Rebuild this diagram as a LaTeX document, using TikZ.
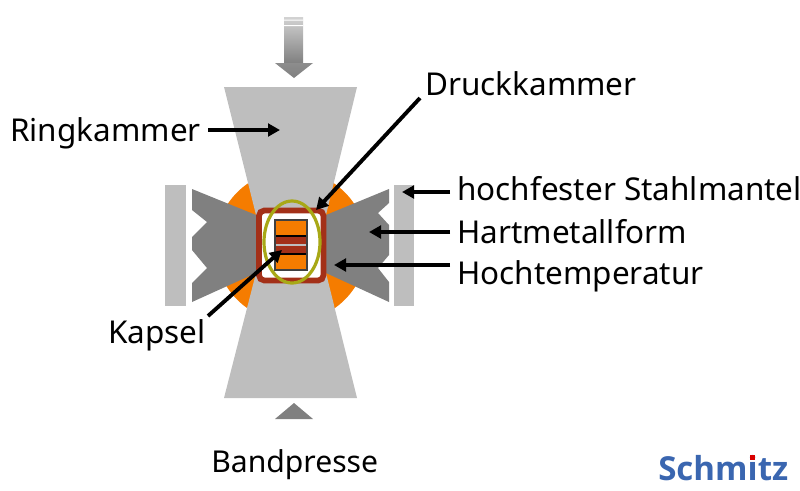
\documentclass[tikz,border=0pt]{standalone}
\usepackage{fontspec}
\setmainfont{Noto Sans}
\newfontfamily\logofont{Open Sans}
\usetikzlibrary{arrows.meta}
\definecolor{lightsteel}{HTML}{BEBEBE}
\definecolor{anvil}{HTML}{808080}
\definecolor{hotorange}{HTML}{F57C00}
\definecolor{rust}{HTML}{A33018}
\definecolor{olive}{HTML}{A8A816}
\definecolor{brand}{HTML}{3A66B0}
\tikzset{
  lbl/.style={anchor=base west,inner sep=0pt,font=\fontsize{23.6}{27}\selectfont,text=black},
  pointer/.style={draw=black,line width=2.9pt,-{Triangle[length=9pt,width=9.5pt]},shorten >=0pt},
}
\begin{document}
\begin{tikzpicture}[x=0.75pt,y=-0.75pt]
\useasboundingbox (0,0) rectangle (800,490);
% orange disc
\fill[hotorange] (291,246) circle[radius=76];
% retaining bars
\fill[lightsteel] (165,185) rectangle (186,306);
\fill[lightsteel] (394,185) rectangle (414,306);
% anvils
\fill[anvil] (192,189) -- (256,215) -- (256,273) -- (192,302) -- (192,283) -- (207,268) -- (192,250) -- (192,237) -- (207,222) -- (192,210) -- cycle;
\fill[anvil] (389,189) -- (326,215) -- (326,273) -- (389,302) -- (389,282) -- (378,268) -- (389,255) -- (389,225) -- (378,213) -- (389,203) -- cycle;
% trapezoids
\fill[lightsteel] (224,87) -- (357,87) -- (326,215) -- (256,215) -- cycle;
\fill[lightsteel] (224,398) -- (357,398) -- (326,273) -- (256,273) -- cycle;
% pressure chamber
\draw[rust,fill=white,line width=4.3pt,rounded corners=4pt] (259,210.5) rectangle (323.5,280.5);
% capsule
\fill[hotorange] (275,220) rectangle (307,270);
\fill[rust] (275,236) rectangle (307,254);
\draw[lightsteel,line width=1pt] (274.5,245) -- (307.5,245);
\draw[black,line width=0.8pt] (275,236) -- (307,236) (275,254) -- (307,254);
\draw[black!75,line width=0.8pt] (275,220) rectangle (307,270);
% ellipse
\draw[olive,line width=2.4pt] (292,242) ellipse[x radius=28,y radius=41];
% press arrows
\shade[top color=gray!35,bottom color=anvil] (284,17) rectangle (303,63);
\shade[top color=anvil!90,bottom color=anvil] (275,63) -- (313,63) -- (294,78) -- cycle;
\fill[white] (284,19.5) rectangle (303,20.5) (284,25) rectangle (303,26);
\fill[anvil] (275,419) -- (313,419) -- (294,403) -- cycle;
% labels
\node[lbl] (ring) at (10,141) {Ringkammer};
\node[lbl] (druck) at (425,95) {Druckkammer};
\node[lbl] (stahl) at (457,200) {hochfester Stahlmantel};
\node[lbl] (hart) at (457,243) {Hartmetallform};
\node[lbl] (hoch) at (457,284) {Hochtemperatur};
\node[lbl] (kapsel) at (108,343) {Kapsel};
\node[lbl,font=\fontsize{22.6}{27}\selectfont] (band) at (211,472) {Bandpresse};
\node[anchor=base west,inner sep=0pt,font=\fontsize{24.8}{28}\selectfont\logofont\bfseries,text=brand] (logo) at (658,480) {Schmitz};
\fill[red!85!black] (749.5,455) rectangle (755,460);
% connector ends
\coordinate (ringS) at (208,130); \coordinate (ringT) at (280,130);
\coordinate (druckS) at (420,98); \coordinate (druckT) at (316,210);
\coordinate (stahlS) at (450,192); \coordinate (stahlT) at (402,192);
\coordinate (hartS) at (450,232); \coordinate (hartT) at (369,232);
\coordinate (hochS) at (450,265); \coordinate (hochT) at (334,265);
\coordinate (kapS) at (208,316); \coordinate (kapT) at (282,250);
\draw[pointer] (ringS) -- (ringT);
\draw[pointer] (druckS) -- (druckT);
\draw[pointer] (stahlS) -- (stahlT);
\draw[pointer] (hartS) -- (hartT);
\draw[pointer] (hochS) -- (hochT);
\draw[pointer] (kapS) -- (kapT);
\end{tikzpicture}
\end{document}
